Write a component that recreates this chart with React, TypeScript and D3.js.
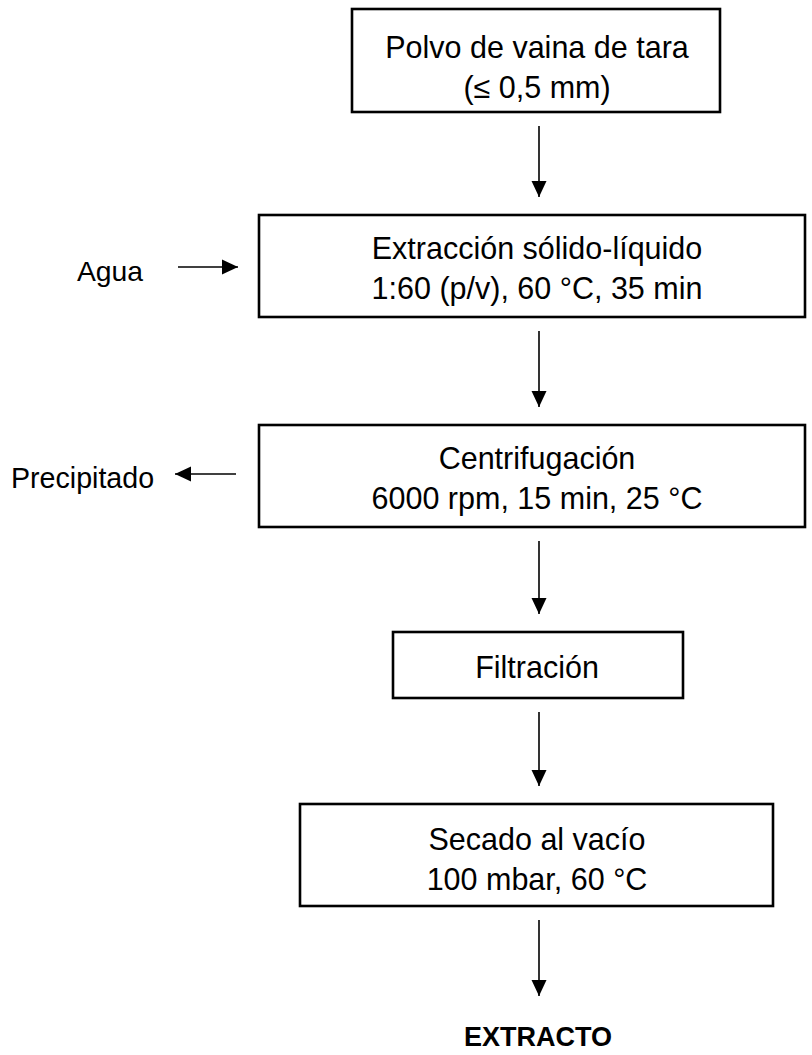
import React, { useEffect, useRef } from "react";
import * as d3 from "d3";

const stepLines: string[][] = [
  ["Polvo de vaina de tara", "(≤ 0,5 mm)"],
  ["Extracción sólido-líquido", "1:60 (p/v), 60 °C, 35 min"],
  ["Centrifugación", "6000 rpm, 15 min, 25 °C"],
  ["Filtración"],
  ["Secado al vacío", "100 mbar, 60 °C"],
];
const finalLabel = "EXTRACTO";
const inputLabel = "Agua";
const outputLabel = "Precipitado";

// layout (pixels)
const boxX0 = [352, 259, 259, 393, 300];
const boxX1 = [720, 805, 805, 683, 773];
const boxY0 = [9, 215, 425, 632, 804];
const boxY1 = [112, 317, 527, 698, 906];
const textShift = [4, 0, 0, 0, 2];

const W = 812;
const H = 1055;
const FONT = "'Liberation Sans', Arial, sans-serif";

export default function App() {
  const ref = useRef<SVGSVGElement | null>(null);
  useEffect(() => {
    const svg = d3.select(ref.current);
    svg.selectAll("*").remove();
    const defs = svg.append("defs");
    defs
      .append("marker")
      .attr("id", "ah")
      .attr("viewBox", "0 0 16 16")
      .attr("refX", 16)
      .attr("refY", 8)
      .attr("markerWidth", 16)
      .attr("markerHeight", 16)
      .attr("markerUnits", "userSpaceOnUse")
      .attr("orient", "auto")
      .append("path")
      .attr("d", "M0,0.5 L16,8 L0,15.5 Z")
      .attr("fill", "#000");

    const g = svg.append("g");
    const arrowX = 539;

    stepLines.forEach((lines, i) => {
      const x0 = boxX0[i], x1 = boxX1[i], y0 = boxY0[i], y1 = boxY1[i];
      g.append("rect")
        .attr("x", x0)
        .attr("y", y0)
        .attr("width", x1 - x0)
        .attr("height", y1 - y0)
        .attr("fill", "#fff")
        .attr("stroke", "#000")
        .attr("stroke-width", 2.6);
      const cx = 537;
      const cy = (y0 + y1) / 2 + 2 + textShift[i];
      const lh = 40;
      lines.forEach((t, j) => {
        g.append("text")
          .attr("x", cx)
          .attr("y", cy + (j - (lines.length - 1) / 2) * lh)
          .attr("text-anchor", "middle")
          .attr("dominant-baseline", "central")
          .attr("font-family", FONT)
          .attr("font-size", 30.5)
          .attr("fill", "#000")
          .text(t);
      });
      const startY = y1 + 14;
      const endY = i + 1 < stepLines.length ? boxY0[i + 1] - 18 : 996;
      g.append("line")
        .attr("x1", arrowX)
        .attr("x2", arrowX)
        .attr("y1", startY)
        .attr("y2", endY)
        .attr("stroke", "#000")
        .attr("stroke-width", 1.6)
        .attr("marker-end", "url(#ah)");
    });

    g.append("text")
      .attr("x", 538)
      .attr("y", 1046)
      .attr("text-anchor", "middle")
      .attr("font-family", FONT)
      .attr("font-size", 27)
      .attr("font-weight", "bold")
      .text(finalLabel);

    // input arrow
    const yIn = 267;
    g.append("line")
      .attr("x1", 178)
      .attr("x2", 238)
      .attr("y1", yIn)
      .attr("y2", yIn)
      .attr("stroke", "#000")
      .attr("stroke-width", 1.6)
      .attr("marker-end", "url(#ah)");
    g.append("text")
      .attr("x", 77)
      .attr("y", 281)
      .attr("font-family", FONT)
      .attr("font-size", 28.3)
      .text(inputLabel);

    // output arrow
    const yOut = 474;
    g.append("line")
      .attr("x1", 236)
      .attr("x2", 175)
      .attr("y1", yOut)
      .attr("y2", yOut)
      .attr("stroke", "#000")
      .attr("stroke-width", 1.6)
      .attr("marker-end", "url(#ah)");
    g.append("text")
      .attr("x", 11)
      .attr("y", 488)
      .attr("font-family", FONT)
      .attr("font-size", 28.6)
      .text(outputLabel);
  }, []);

  return (
    <svg
      ref={ref}
      width={W}
      height={H}
      style={{ position: "absolute", left: 0, top: 0, background: "#fff" }}
    />
  );
}
